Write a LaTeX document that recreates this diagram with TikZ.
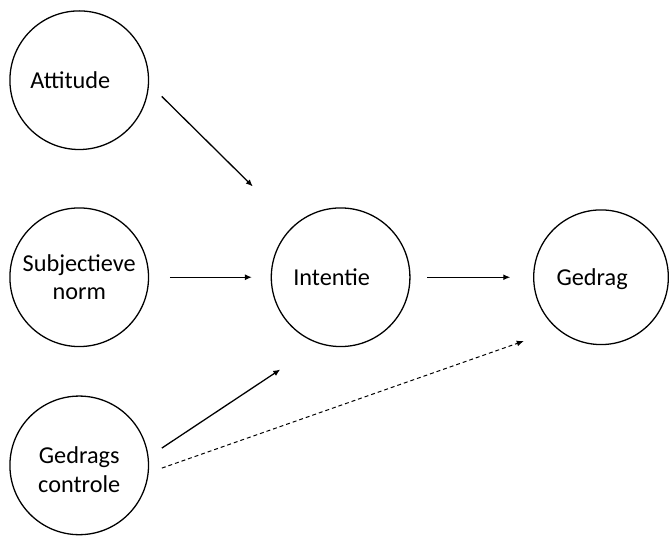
\documentclass[tikz,border=0pt]{standalone}
\usepackage{fontspec}
\setmainfont{Carlito}
\usetikzlibrary{calc,positioning,arrows.meta}

\begin{document}
\begin{tikzpicture}[
    x=1pt, y=-1pt,
    concept/.style={circle, draw, line width=1.3pt, minimum size=140pt, inner sep=0pt},
    txt/.style={font=\fontsize{24.5}{29}\selectfont, align=center},
    link/.style={line width=1.3pt, -{Latex[length=7pt,width=6pt]}},
    maybe/.style={link, line width=1pt, dash pattern=on 4pt off 3pt},
]
    \path [fill=white] (0,0) rectangle (669,539);

    % the five factors
    \node [concept, label={[txt,xshift=-9pt]center:Attitude}] (att) at (80,81) {};
    \node [concept, label={[txt]center:Subjectieve\\norm}] (sub) at (80,280) {};
    \node [concept, label={[txt,yshift=-4pt]center:Gedrags\\controle}] (gc) at (80,470) {};
    \node [concept, label={[txt,xshift=-9pt]center:Intentie}] (int) at (344,280) {};
    \node [concept, minimum size=136pt, label={[txt,xshift=-9pt,yshift=-2pt]center:Gedrag}] (ged) at (607,280) {};

    % influences
    \draw [link, shorten <=18pt, shorten >=57pt] (att.-3) -- (int.133);
    \draw [link, shorten <=21pt, shorten >=19pt] (sub.east) -- (int.west);
    \draw [link, shorten <=16pt, shorten >=47pt] (gc.7) -- (int.252);
    \draw [link, shorten <=17pt, shorten >=23pt] (int.east) -- (ged.west);
    \draw [maybe, shorten <=14pt, shorten >=36pt] (gc.-6) -- (ged.230);
\end{tikzpicture}
\end{document}
